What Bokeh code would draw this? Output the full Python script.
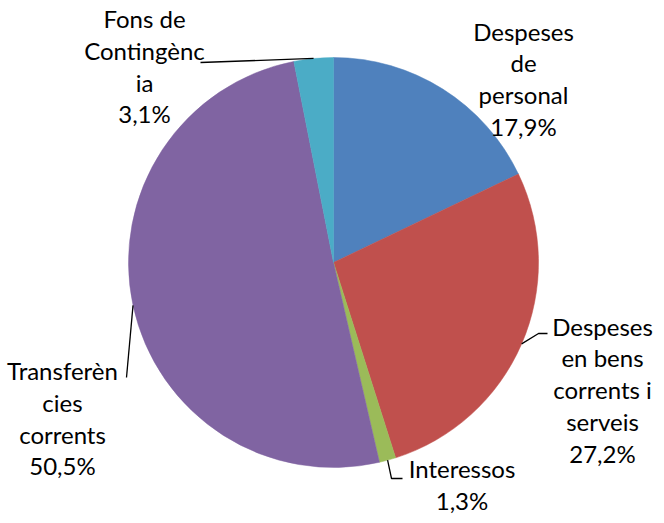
import math
from bokeh.plotting import figure
from bokeh.models import Range1d, ColumnDataSource
from bokeh.core.properties import value
from bokeh.embed import file_html
from bokeh.resources import INLINE

# ---- data ----
categories = ["Despeses\nde\npersonal",
              "Despeses\nen bens\ncorrents i\nserveis",
              "Interessos",
              "Transferèn\ncies\ncorrents",
              "Fons de\nContingènc\nia"]
shares = [17.9, 27.2, 1.3, 50.5, 3.1]
colors = ["#4F81BD", "#C0504D", "#9BBB59", "#8064A2", "#4BACC6"]

# ---- layout (page pixel coords) ----
W, H = 656, 515
def px(x): return x - 8
def py(y): return 523 - y

CX, CY, R = 341, 270, 205
TEXT_SHIFT = -8
label_anchor = [(531, 46.5), (610, 341.5), (469.5, 484), (70, 386), (152, 34)]
leader_pts = [None, [(546, 341), (555, 341)], [(399, 486), (410, 486)], [(134, 385)], [(208, 70)]]
PITCH = 31.8
FONT = "Lato"
FSIZE = "24px"

p = figure(width=W, height=H, x_range=Range1d(0, W), y_range=Range1d(0, H),
           output_backend="svg", toolbar_location=None, min_border=0)
p.axis.visible = False
p.grid.visible = False
p.outline_line_color = None
p.background_fill_color = "white"
p.border_fill_color = "white"

total = sum(shares)
starts, ends, mids = [], [], []
acc = 0.0
for v in shares:
    a0 = math.pi / 2 - 2 * math.pi * acc / total
    acc += v
    a1 = math.pi / 2 - 2 * math.pi * acc / total
    starts.append(a0)
    ends.append(a1)
    mids.append((a0 + a1) / 2)

src = ColumnDataSource(dict(x=[px(CX)] * len(shares), y=[py(CY)] * len(shares),
                            start=starts, end=ends, color=colors))
p.wedge(x="x", y="y", radius=R, start_angle="start", end_angle="end",
        direction="clock", fill_color="color", line_color="color", line_width=0.5,
        source=src)

# leader lines
lx, ly = [], []
for i, pts in enumerate(leader_pts):
    if pts is None:
        continue
    ex = CX + R * math.cos(mids[i])
    ey = CY - R * math.sin(mids[i])
    xs = [px(ex)] + [px(a) for a, b in pts]
    ys = [py(ey)] + [py(b) for a, b in pts]
    lx.append(xs)
    ly.append(ys)
p.multi_line(xs=lx, ys=ly, line_color="black", line_width=1.3)

# labels
tx, ty, tt = [], [], []
for i, (cat, v) in enumerate(zip(categories, shares)):
    lines = cat.split("\n") + [f"{v:.1f}%".replace(".", ",")]
    ax, ay = label_anchor[i]
    for k, line in enumerate(lines):
        tx.append(px(ax))
        ty.append(py(ay + TEXT_SHIFT + k * PITCH))
        tt.append(line)
p.text(x=tx, y=ty, text=tt, text_align="center", text_baseline="alphabetic",
       text_font=value(FONT), text_font_size=FSIZE, text_color="black")

open("out.html", "w").write(file_html(p, INLINE))
